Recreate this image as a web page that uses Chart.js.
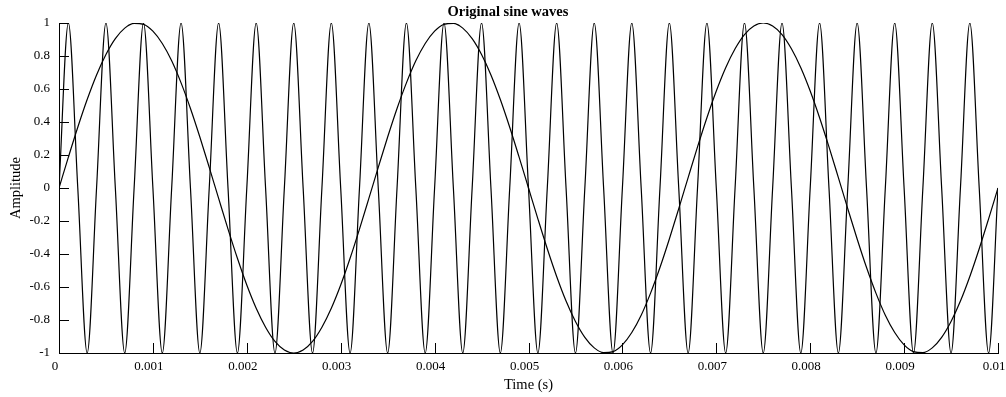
<!DOCTYPE html>
<html>
<head>
<meta charset="utf-8">
<title>Original sine waves</title>
<script src="https://cdn.jsdelivr.net/npm/chart.js@4.4.1/dist/chart.umd.min.js"></script>
<style>
  html, body { margin: 0; padding: 0; background: #fff; }
  #wrap { width: 1006px; height: 397px; position: relative; }
</style>
</head>
<body>
<div id="wrap"><canvas id="chartSine"></canvas></div>
<script>
// sample times (s)
const timeSec = [
  0, 0.0001, 0.0002, 0.0003, 0.0004, 0.0005, 0.0006, 0.0007, 0.0008, 0.0009,
  0.001, 0.0011, 0.0012, 0.0013, 0.0014, 0.0015, 0.0016, 0.0017, 0.0018, 0.0019,
  0.002, 0.0021, 0.0022, 0.0023, 0.0024, 0.0025, 0.0026, 0.0027, 0.0028, 0.0029,
  0.003, 0.0031, 0.0032, 0.0033, 0.0034, 0.0035, 0.0036, 0.0037, 0.0038, 0.0039,
  0.004, 0.0041, 0.0042, 0.0043, 0.0044, 0.0045, 0.0046, 0.0047, 0.0048, 0.0049,
  0.005, 0.0051, 0.0052, 0.0053, 0.0054, 0.0055, 0.0056, 0.0057, 0.0058, 0.0059,
  0.006, 0.0061, 0.0062, 0.0063, 0.0064, 0.0065, 0.0066, 0.0067, 0.0068, 0.0069,
  0.007, 0.0071, 0.0072, 0.0073, 0.0074, 0.0075, 0.0076, 0.0077, 0.0078, 0.0079,
  0.008, 0.0081, 0.0082, 0.0083, 0.0084, 0.0085, 0.0086, 0.0087, 0.0088, 0.0089,
  0.009, 0.0091, 0.0092, 0.0093, 0.0094, 0.0095, 0.0096, 0.0097, 0.0098, 0.0099,
  0.01
];

// slow wave (about 300 Hz)
const slowWave = [
  0, 0.187, 0.368, 0.536, 0.685, 0.809, 0.905, 0.969, 0.998, 0.992,
  0.951, 0.876, 0.771, 0.637, 0.482, 0.309, 0.125, -0.063, -0.249, -0.426,
  -0.588, -0.729, -0.844, -0.930, -0.982, -1, -0.982, -0.930, -0.844, -0.729,
  -0.588, -0.426, -0.249, -0.063, 0.125, 0.309, 0.482, 0.637, 0.771, 0.876,
  0.951, 0.992, 0.998, 0.969, 0.905, 0.809, 0.685, 0.536, 0.368, 0.187,
  0, -0.187, -0.368, -0.536, -0.685, -0.809, -0.905, -0.969, -0.998, -0.992,
  -0.951, -0.876, -0.771, -0.637, -0.482, -0.309, -0.125, 0.063, 0.249, 0.426,
  0.588, 0.729, 0.844, 0.930, 0.982, 1, 0.982, 0.930, 0.844, 0.729,
  0.588, 0.426, 0.249, 0.063, -0.125, -0.309, -0.482, -0.637, -0.771, -0.876,
  -0.951, -0.992, -0.998, -0.969, -0.905, -0.809, -0.685, -0.536, -0.368, -0.187,
  0
];

// fast wave (about 2500 Hz), peaks and zeros
const fastWave = [
  0, 1, 0, -1, 0, 1, 0, -1, 0, 1,
  0, -1, 0, 1, 0, -1, 0, 1, 0, -1,
  0, 1, 0, -1, 0, 1, 0, -1, 0, 1,
  0, -1, 0, 1, 0, -1, 0, 1, 0, -1,
  0, 1, 0, -1, 0, 1, 0, -1, 0, 1,
  0, -1, 0, 1, 0, -1, 0, 1, 0, -1,
  0, 1, 0, -1, 0, 1, 0, -1, 0, 1,
  0, -1, 0, 1, 0, -1, 0, 1, 0, -1,
  0, 1, 0, -1, 0, 1, 0, -1, 0, 1,
  0, -1, 0, 1, 0, -1, 0, 1, 0, -1,
  0
];

const xTickValues = [0, 0.001, 0.002, 0.003, 0.004, 0.005, 0.006, 0.007, 0.008, 0.009, 0.01];
const xTickLabels = ['0', '0.001', '0.002', '0.003', '0.004', '0.005', '0.006', '0.007', '0.008', '0.009', '0.01'];
const yTickValues = [-1, -0.8, -0.6, -0.4, -0.2, 0, 0.2, 0.4, 0.6, 0.8, 1];
const yTickLabels = ['-1', '-0.8', '-0.6', '-0.4', '-0.2', '0', '0.2', '0.4', '0.6', '0.8', '1'];

(function () {
  const FONT = "'Liberation Serif', 'DejaVu Serif', serif";

  function toPoints(ys) {
    return timeSec.map((t, i) => ({ x: t, y: ys[i] }));
  }

  // gnuplot style ticks pointing into the plot
  const innerTicks = {
    id: 'innerTicks',
    afterLayout(chart) {
      // title sits a bit right of canvas centre in the original
      const t = chart.titleBlock;
      if (t) { t.left += 5; t.right += 5; }
    },
    afterDatasetsDraw(chart) {
      const { ctx, chartArea: a, scales: { x, y } } = chart;
      ctx.save();
      ctx.strokeStyle = '#000';
      ctx.lineWidth = 1;
      ctx.beginPath();
      x.ticks.forEach(tk => {
        const px = Math.round(x.getPixelForValue(tk.value)) + 0.5;
        ctx.moveTo(px, a.bottom);
        ctx.lineTo(px, a.bottom - 10);
      });
      y.ticks.forEach(tk => {
        const py = Math.round(y.getPixelForValue(tk.value)) + 0.5;
        ctx.moveTo(a.left, py);
        ctx.lineTo(a.left + 10, py);
      });
      ctx.stroke();
      ctx.restore();
    }
  };

  const lineStyle = {
    borderColor: '#000',
    borderWidth: 1.2,
    pointRadius: 0,
    fill: false,
    cubicInterpolationMode: 'monotone'
  };

  new Chart(document.getElementById('chartSine').getContext('2d'), {
    type: 'line',
    data: {
      datasets: [
        Object.assign({ label: 'slow', data: toPoints(slowWave) }, lineStyle),
        Object.assign({ label: 'fast', data: toPoints(fastWave) }, lineStyle)
      ]
    },
    options: {
      responsive: true,
      maintainAspectRatio: false,
      animation: false,
      layout: { padding: 0 },
      plugins: {
        legend: { display: false },
        tooltip: { enabled: false },
        title: {
          display: true,
          text: 'Original sine waves',
          color: '#000',
          font: { family: FONT, size: 14.5, weight: 'bold' },
          padding: { top: 3.5, bottom: 2.1 }
        }
      },
      scales: {
        x: {
          type: 'linear',
          min: 0,
          max: 0.01,
          afterBuildTicks: s => { s.ticks = xTickValues.map(v => ({ value: v })); },
          afterFit: s => { s.height = 44; s.paddingLeft = 0; s.paddingRight = 8; },
          grid: { display: false, drawTicks: false },
          border: { display: true, color: '#000', width: 1 },
          ticks: {
            color: '#000',
            font: { family: FONT, size: 13 },
            padding: 6,
            labelOffset: -4,
            maxRotation: 0,
            autoSkip: false,
            callback: (v, i) => xTickLabels[i]
          },
          title: {
            display: true,
            text: 'Time (s)',
            color: '#000',
            font: { family: FONT, size: 14.5 },
            padding: { top: 0, bottom: 3 }
          }
        },
        y: {
          min: -1,
          max: 1,
          afterBuildTicks: s => { s.ticks = yTickValues.map(v => ({ value: v })); },
          afterFit: s => { s.width = 59; },
          grid: { display: false, drawTicks: false },
          border: { display: true, color: '#000', width: 1 },
          ticks: {
            color: '#000',
            font: { family: FONT, size: 13 },
            padding: 9,
            autoSkip: false,
            callback: (v, i) => yTickLabels[i]
          },
          title: {
            display: true,
            text: 'Amplitude',
            color: '#000',
            font: { family: FONT, size: 14.5 },
            padding: { top: 7, bottom: 0 }
          }
        }
      }
    },
    plugins: [innerTicks]
  });
})();
</script>
</body>
</html>
